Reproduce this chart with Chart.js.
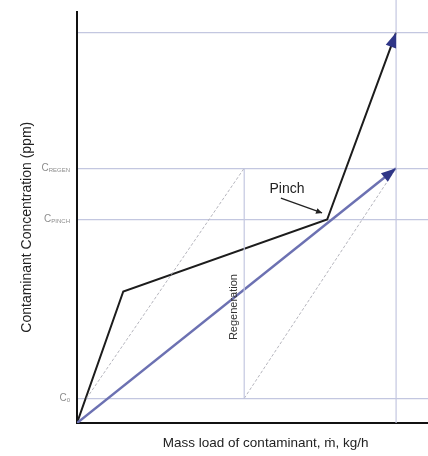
<!DOCTYPE html>
<html>
<head>
<meta charset="utf-8">
<script src="https://cdn.jsdelivr.net/npm/chart.js@4.4.1/dist/chart.umd.min.js"></script>
<style>
  html, body { margin: 0; padding: 0; background: #fff; }
  #wrap { width: 428px; height: 456px; }
</style>
</head>
<body>
<div id="wrap"><canvas id="pinchChart" width="428" height="456"></canvas></div>
<script>
// Concentration levels (relative ppm)
const C0 = 6;
const C_PINCH = 49.5;
const C_REGEN = 62;
const C_OUT = 95;

// Mass loads (relative kg/h)
const M_REGEN = 5.24;
const M_TOTAL = 10;

// Y tick positions and their labels (main letter + subscript)
const yTickValues = [C0, C_PINCH, C_REGEN, C_OUT];
const yTickMain = ['C', 'C', 'C', ''];
const yTickSub = ['0', 'PINCH', 'REGEN', ''];

// Limiting composite curve (black)
const compositeX = [0, 1.45, 7.84, M_TOTAL];
const compositeY = [0, 32, C_PINCH, C_OUT];

// Supply line (blue)
const supplyX = [0, M_TOTAL];
const supplyY = [0, C_REGEN];

// Thin grey construction lines
const greyOneX = [0.3, M_REGEN];
const greyOneY = [C0, C_REGEN];
const greyTwoX = [M_REGEN, M_TOTAL];
const greyTwoY = [C0, C_REGEN];

// Vertical lines
const regenX = [M_REGEN, M_REGEN];
const regenY = [C0, C_REGEN];
const totalX = [M_TOTAL, M_TOTAL];
const totalY = [0, 103];

// Pinch annotation arrow
const pinchArrowX = [6.39, 7.68];
const pinchArrowY = [54.7, 51.1];

const gridColor = '#c3c7e0';

function toPoints(xs, ys) {
    return xs.map((x, i) => ({ x: x, y: ys[i] }));
}

function drawArrowHead(ctx, x0, y0, x1, y1, len, half, color) {
    const a = Math.atan2(y1 - y0, x1 - x0);
    ctx.save();
    ctx.translate(x1, y1);
    ctx.rotate(a);
    ctx.beginPath();
    ctx.moveTo(0, 0);
    ctx.lineTo(-len, -half);
    ctx.lineTo(-len, half);
    ctx.closePath();
    ctx.fillStyle = color;
    ctx.fill();
    ctx.restore();
}

// Arrow heads, y tick labels with subscripts, and text notes
const extrasPlugin = {
    id: 'extras',
    afterDatasetsDraw(chart) {
        const ctx = chart.ctx;
        chart.data.datasets.forEach((ds, i) => {
            if (!ds.arrow) return;
            const pts = chart.getDatasetMeta(i).data;
            const a = pts[pts.length - 2];
            const b = pts[pts.length - 1];
            drawArrowHead(ctx, a.x, a.y, b.x, b.y, ds.arrow.len, ds.arrow.half, ds.arrow.color);
        });
    },
    afterDraw(chart) {
        const ctx = chart.ctx;
        const xs = chart.scales.x;
        const ys = chart.scales.y;

        // y tick labels
        yTickValues.forEach((v, i) => {
            if (!yTickMain[i]) return;
            const py = ys.getPixelForValue(v);
            ctx.save();
            ctx.font = '6px "Liberation Sans", Arial, sans-serif';
            const subW = ctx.measureText(yTickSub[i]).width;
            ctx.font = '10px "Liberation Sans", Arial, sans-serif';
            const mainW = ctx.measureText(yTickMain[i]).width;
            const right = 70;
            ctx.fillStyle = '#8c8c8c';
            ctx.textBaseline = 'middle';
            ctx.textAlign = 'left';
            ctx.fillText(yTickMain[i], right - subW - mainW, py);
            ctx.font = '6px "Liberation Sans", Arial, sans-serif';
            ctx.fillText(yTickSub[i], right - subW, py + 2);
            ctx.restore();
        });

        // "Pinch" note
        ctx.save();
        ctx.font = '14px "Liberation Sans", Arial, sans-serif';
        ctx.fillStyle = '#222';
        ctx.textAlign = 'center';
        ctx.textBaseline = 'middle';
        ctx.fillText('Pinch', xs.getPixelForValue(6.58), ys.getPixelForValue(56.9));
        ctx.restore();

        // "Regeneration" note, rotated
        ctx.save();
        ctx.translate(xs.getPixelForValue(4.92), ys.getPixelForValue(28.2));
        ctx.rotate(-Math.PI / 2);
        ctx.font = '11px "Liberation Sans", Arial, sans-serif';
        ctx.fillStyle = '#333';
        ctx.textAlign = 'center';
        ctx.textBaseline = 'middle';
        ctx.fillText('Regeneration', 0, 0);
        ctx.restore();
    }
};

const ctx = document.getElementById('pinchChart').getContext('2d');

new Chart(ctx, {
    type: 'scatter',
    data: {
        datasets: [
            {
                data: toPoints(totalX, totalY),
                borderColor: gridColor,
                borderWidth: 1.2,
                clip: false
            },
            {
                data: toPoints(regenX, regenY),
                borderColor: gridColor,
                borderWidth: 1.2
            },
            {
                data: toPoints(greyOneX, greyOneY),
                borderColor: '#b5b5bd',
                borderWidth: 1,
                borderDash: [3, 2]
            },
            {
                data: toPoints(greyTwoX, greyTwoY),
                borderColor: '#b5b5bd',
                borderWidth: 1,
                borderDash: [3, 2]
            },
            {
                data: toPoints(supplyX, supplyY),
                borderColor: '#6c71b2',
                borderWidth: 2.5,
                arrow: { len: 15, half: 5.5, color: '#2f3687' }
            },
            {
                data: toPoints(compositeX, compositeY),
                borderColor: '#1c1c1c',
                borderWidth: 2,
                arrow: { len: 15, half: 5.5, color: '#2f3687' }
            },
            {
                data: toPoints(pinchArrowX, pinchArrowY),
                borderColor: '#222',
                borderWidth: 1.3,
                arrow: { len: 6, half: 3, color: '#222' }
            }
        ]
    },
    options: {
        responsive: false,
        animation: false,
        showLine: true,
        layout: { padding: { top: 12, right: 0, left: 0, bottom: 0 } },
        elements: {
            point: { radius: 0, hoverRadius: 0 },
            line: { tension: 0, fill: false }
        },
        plugins: {
            legend: { display: false },
            tooltip: { enabled: false }
        },
        scales: {
            x: {
                type: 'linear',
                min: 0,
                max: 11,
                ticks: { display: false },
                grid: { display: false },
                border: { display: true, color: '#111', width: 2 },
                title: {
                    display: true,
                    text: '       Mass load of contaminant, \u1E41, kg/h',
                    color: '#222',
                    font: { family: '"Liberation Sans", Arial, sans-serif', size: 13.5 },
                    padding: { top: 0, bottom: 5 }
                },
                afterFit(scale) { scale.height = 33; }
            },
            y: {
                type: 'linear',
                min: 0,
                max: 100,
                afterBuildTicks(scale) {
                    scale.ticks = yTickValues.map(v => ({ value: v }));
                },
                ticks: { display: false },
                grid: { color: gridColor, lineWidth: 1.2, drawTicks: false },
                border: { display: true, color: '#111', width: 2 },
                title: {
                    display: true,
                    text: 'Contaminant Concentration (ppm)     ',
                    color: '#222',
                    font: { family: '"Liberation Sans", Arial, sans-serif', size: 14 },
                    padding: { top: 18.6, bottom: 0 }
                },
                afterFit(scale) { scale.width = 77; }
            }
        }
    },
    plugins: [extrasPlugin]
});
</script>
</body>
</html>
